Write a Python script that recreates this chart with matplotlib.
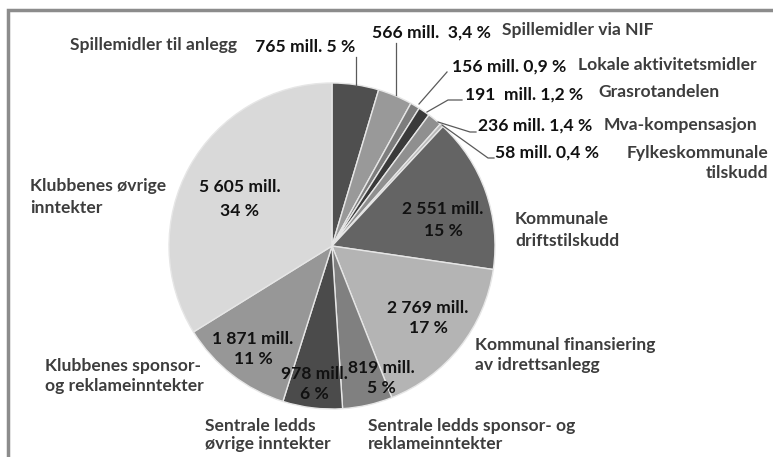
import matplotlib
matplotlib.use("Agg")
import matplotlib.pyplot as plt
from matplotlib.patches import Rectangle

# ---- data ----
categories = [
    "Spillemidler til anlegg", "Spillemidler via NIF", "Lokale aktivitetsmidler",
    "Grasrotandelen", "Mva-kompensasjon", "Fylkeskommunale\ntilskudd",
    "Kommunale\ndriftstilskudd", "Kommunal finansiering\nav idrettsanlegg",
    "Sentrale ledds sponsor- og\nreklameinntekter", "Sentrale ledds\nøvrige inntekter",
    "Klubbenes sponsor-\nog reklameinntekter", "Klubbenes øvrige\ninntekter",
]
values = [765, 566, 156, 191, 236, 58, 2551, 2769, 819, 978, 1871, 5605]
value_labels = [
    "765 mill. 5 %", "566 mill.  3,4 %", "156 mill. 0,9 %", "191  mill. 1,2 %",
    "236 mill. 1,4 %", "58 mill. 0,4 %", "2 551 mill.\n15 %", "2 769 mill.\n17 %",
    "819 mill.\n5 %", "978 mill.\n6 %", "1 871 mill.\n11 %", "5 605 mill.\n34 %",
]
colors = ["#4f4f4f", "#999999", "#7d7d7d", "#3a3a3a", "#8f8f8f", "#b8b8b8",
          "#646464", "#b4b4b4", "#808080", "#4b4b4b", "#979797", "#d9d9d9"]

W, H = 773, 457
fig = plt.figure(figsize=(W / 100, H / 100), dpi=100)
ax = fig.add_axes([0, 0, 1, 1])

FONT = "Lato"
def Y(y):
    return H - y

# frame
fig.patches.append(Rectangle((8 / W, -0.1), 1.2, (H - 10) / H + 0.1, transform=fig.transFigure,
                             fill=False, edgecolor="#8c8c8c", linewidth=2.5))

cx, cy, r = 332, 246, 163
ax.pie(values, colors=colors, startangle=90, counterclock=False,
       center=(cx, Y(cy)), radius=r, frame=True,
       wedgeprops=dict(edgecolor="#e6e6e6", linewidth=1.0))
ax.set_xlim(0, W)
ax.set_ylim(0, H)
ax.set_aspect("equal")
ax.axis("off")

FS = 12.6
numkw = dict(fontsize=FS, fontweight="bold", color="#111111", family=FONT)
catkw = dict(fontsize=FS, fontweight="bold", color="#3d3d3d", family=FONT)

# outside small-slice labels
ax.text(255, Y(47), value_labels[0], ha="left", va="center", **numkw)
ax.text(70, Y(45), categories[0], ha="left", va="center", **catkw)
ax.text(372, Y(33), value_labels[1], ha="left", va="center", **numkw)
ax.text(502, Y(30), categories[1], ha="left", va="center", **catkw)
ax.text(452, Y(67), value_labels[2], ha="left", va="center", **numkw)
ax.text(578, Y(65), categories[2], ha="left", va="center", **catkw)
ax.text(465, Y(95), value_labels[3], ha="left", va="center", **numkw)
ax.text(598, Y(92), categories[3], ha="left", va="center", **catkw)
ax.text(478, Y(126), value_labels[4], ha="left", va="center", **numkw)
ax.text(604, Y(125), categories[4], ha="left", va="center", **catkw)
ax.text(495, Y(153), value_labels[5], ha="left", va="center", **numkw)
ax.text(768, Y(163), categories[5], ha="right", va="center", linespacing=1.3, **catkw)

# inside labels
ax.text(443, Y(220), value_labels[6], ha="center", va="center", linespacing=1.45, **numkw)
ax.text(428, Y(318), value_labels[7], ha="center", va="center", linespacing=1.35, **numkw)
ax.text(381, Y(378), value_labels[8], ha="center", va="center", linespacing=1.3, **numkw)
ax.text(314, Y(384), value_labels[9], ha="center", va="center", linespacing=1.3, **numkw)
ax.text(253, Y(349), value_labels[10], ha="center", va="center", linespacing=1.35, **numkw)
ax.text(240, Y(199), value_labels[11], ha="center", va="center", linespacing=1.6, **numkw)

# outside category labels for big slices
ax.text(515, Y(230), categories[6], ha="left", va="center", linespacing=1.4, **catkw)
ax.text(475, Y(355), categories[7], ha="left", va="center", linespacing=1.35, **catkw)
ax.text(368, Y(435), categories[8], ha="left", va="center", linespacing=1.2, **catkw)
ax.text(205, Y(435), categories[9], ha="left", va="center", linespacing=1.2, **catkw)
ax.text(45, Y(376), categories[10], ha="left", va="center", linespacing=1.3, **catkw)
ax.text(30, Y(197), categories[11], ha="left", va="center", linespacing=1.4, **catkw)

# leader lines
lc = dict(color="#5a5a5a", linewidth=0.9)
ax.plot([356, 356], [Y(57), Y(86)], **lc)
ax.plot([396, 396], [Y(43), Y(95)], **lc)
ax.plot([447, 419], [Y(72), Y(104)], **lc)
ax.plot([462, 448, 427], [Y(100), Y(100), Y(112)], **lc)
ax.plot([476, 470, 438], [Y(132), Y(132), Y(122)], **lc)
ax.plot([494, 488, 442], [Y(158), Y(158), Y(125)], **lc)

fig.savefig("out.png", dpi=100)
